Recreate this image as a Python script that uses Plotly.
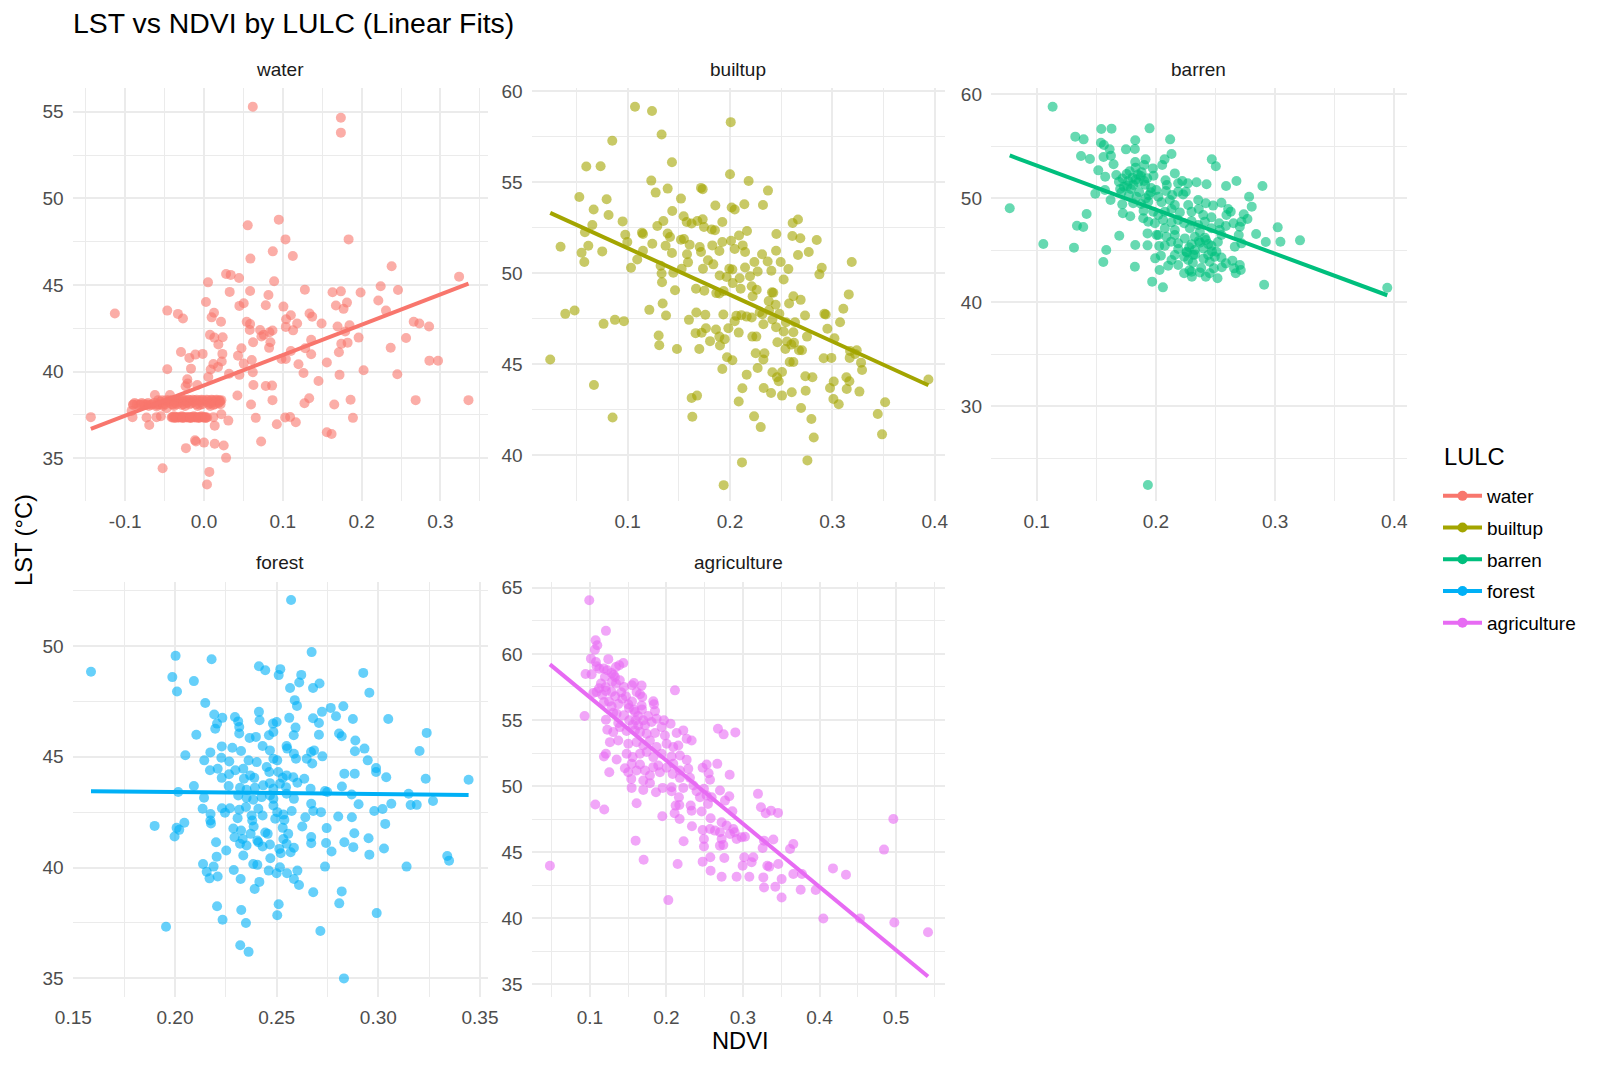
import numpy as np
import plotly.graph_objects as go

categories = ["water", "builtup", "barren", "forest", "agriculture"]
colors = ["#F8766D", "#A3A500", "#00BF7D", "#00B0F6", "#E76BF3"]

# (NDVI, LST) pairs, one list per LULC class
water_points = [(0.0619,55.29),(0.1737,54.65),(0.1737,53.79),(0.0555,48.44),(0.0949,48.77),(0.1034,47.63),(0.1835,47.63),(0.0873,46.94),(0.0589,46.52),(0.1127,46.67),(0.2381,46.08),(0.3237,45.48),(0.0280,45.63),(0.0339,45.58),(0.0445,45.40),(0.0051,45.15),(0.0890,45.21),(0.0585,44.65),(0.0326,44.60),(0.1280,44.73),(0.1631,44.58),(0.1737,44.63),(0.1987,44.56),(0.2242,44.92),(0.2462,44.71),(0.0818,44.42),(0.0025,44.02),(0.2212,44.10),(0.0504,43.94),(0.0449,43.79),(0.0784,43.83),(0.1008,43.75),(0.1674,43.81),(0.1814,43.98),(0.1771,43.62),(-0.1131,43.35),(-0.0466,43.52),(-0.0331,43.33),(-0.0267,43.06),(0.0127,43.40),(0.0097,43.13),(0.0216,42.88),(0.1102,43.25),(0.1339,43.35),(0.1373,43.17),(0.1042,43.02),(0.1182,42.77),(0.0542,42.87),(0.0585,42.75),(0.0581,42.40),(0.1492,42.77),(0.2309,43.52),(0.2661,42.88),(0.2733,42.77),(0.2856,42.60),(0.1038,42.58),(0.1131,42.38),(0.0712,42.40),(0.0831,42.27),(0.0869,42.37),(0.1695,42.60),(0.1847,42.67),(0.1792,42.31),(0.0076,42.12),(0.0131,41.96),(0.0237,41.98),(0.0729,42.02),(0.0758,42.12),(0.0843,41.69),(0.0623,41.69),(0.1360,41.83),(0.1962,41.96),(0.2564,41.94),(0.0182,41.56),(0.0475,41.35),(0.0826,41.37),(0.1742,41.60),(0.1822,41.67),(0.1284,41.35),(0.1102,41.19),(0.2369,41.38),(-0.0292,41.13),(-0.0110,40.98),(-0.0017,41.02),(-0.0186,40.79),(0.0233,41.02),(0.0432,40.92),(0.0606,40.67),(0.0225,40.58),(0.0119,40.44),(0.0178,40.27),(0.0085,40.12),(0.0504,40.46),(0.0983,40.73),(0.1038,40.73),(0.1360,41.00),(0.1712,41.12),(0.1199,40.42),(0.1559,40.52),(0.2860,40.63),(0.2970,40.62),(-0.0466,40.13),(-0.0165,40.17),(0.0318,39.87),(0.0449,39.81),(0.0619,39.96),(0.1263,39.92),(0.2025,40.08),(0.1720,39.81),(0.2453,39.85),(0.0055,39.69),(-0.0212,39.56),(-0.0233,39.15),(-0.0208,39.31),(-0.0085,39.23),(0.1453,39.46),(0.0627,39.23),(0.0784,39.17),(0.0864,39.19),(0.0424,38.62),(0.1335,38.46),(0.0869,38.35),(0.1275,38.17),(0.1653,38.10),(0.1860,38.37),(0.2686,38.35),(0.3356,38.35),(0.0597,38.10),(-0.0898,38.10),(-0.0801,38.10),(-0.0720,38.10),(-0.0623,38.65),(-0.0593,38.10),(-0.0525,38.10),(-0.0432,38.65),(-0.0390,38.10),(-0.0326,38.27),(-0.0263,38.37),(-0.0199,38.37),(-0.0144,38.37),(-0.0093,38.37),(-0.0030,38.37),(0.0034,38.37),(0.0097,38.37),(0.0161,38.37),(0.0203,38.32),(-0.0919,37.73),(-0.0602,37.98),(-0.0475,37.88),(-0.0369,38.17),(-0.0284,38.08),(-0.0220,38.17),(-0.0157,38.17),(-0.0051,38.08),(0.0076,38.17),(0.0119,38.08),(0.0182,38.17),(-0.0390,37.35),(-0.0326,37.35),(-0.0271,37.35),(-0.0220,37.35),(-0.0169,37.35),(-0.0119,37.35),(-0.0068,37.35),(-0.0017,37.35),(0.0025,37.35),(-0.1436,37.37),(-0.0907,37.37),(-0.0729,37.35),(-0.0602,37.37),(-0.0547,37.42),(-0.0695,36.92),(0.0119,37.37),(0.0220,37.54),(0.0136,36.88),(0.0309,37.17),(0.0657,37.33),(0.1030,37.35),(0.1093,37.38),(0.1165,37.08),(0.0924,36.96),(0.1890,37.33),(0.1559,36.50),(0.1619,36.40),(-0.0114,36.04),(-0.0102,35.96),(0.0,35.90),(-0.0229,35.58),(0.0136,35.83),(0.0250,35.73),(0.0725,35.96),(0.0280,35.02),(-0.0525,34.42),(0.0068,34.21),(0.0038,33.48),
    # overplotted points in the dense bands near NDVI 0
    (-0.058,38.35),(-0.053,38.35),(-0.048,38.35),(-0.044,38.35),(-0.040,38.35),(-0.036,38.35),(-0.031,38.35),(-0.027,38.35),(-0.023,38.35),(-0.018,38.35),(-0.012,38.35),(-0.006,38.35),(-0.001,38.35),(0.005,38.35),(0.010,38.35),(0.014,38.35),(0.019,38.35),(0.022,38.35),
    (-0.055,38.25),(-0.046,38.25),(-0.038,38.25),(-0.029,38.25),(-0.021,38.25),(-0.013,38.25),(-0.004,38.25),(0.004,38.25),(0.012,38.25),(0.020,38.25),
    (-0.085,38.12),(-0.076,38.12),(-0.066,38.12),(-0.057,38.12),(-0.049,38.12),(-0.041,38.12),(-0.034,38.12),(-0.026,38.12),(-0.018,38.12),(-0.010,38.12),(-0.002,38.12),(0.006,38.12),(0.014,38.12),(0.021,38.12),
    (-0.070,38.02),(-0.052,38.02),(-0.038,38.02),(-0.024,38.02),(-0.008,38.02),(0.008,38.02),
    (-0.041,37.35),(-0.036,37.35),(-0.030,37.35),(-0.025,37.35),(-0.020,37.35),(-0.015,37.35),(-0.010,37.35),(-0.005,37.35),(0.000,37.35),(0.004,37.35),(-0.033,37.35),(-0.018,37.35),
    (-0.038,37.42),(-0.028,37.42),(-0.013,37.42),(-0.003,37.42),
    (-0.040,37.38),(-0.035,37.38),(-0.029,37.38),(-0.024,37.38),(-0.019,37.38),(-0.014,37.38),(-0.009,37.38),(-0.004,37.38),(0.001,37.38),
    (-0.037,37.32),(-0.027,37.32),(-0.017,37.32),(-0.007,37.32),(0.002,37.32),
    (-0.090,38.08),(-0.082,38.08),(-0.074,38.08),(-0.067,38.08),(-0.060,38.08),
    (-0.088,38.18),(-0.079,38.18),(-0.071,38.18),(-0.063,38.18)]

builtup_points = [(0.1072,59.14),(0.1238,58.90),(0.2007,58.29),(0.1332,57.61),(0.0850,57.27),(0.0596,55.85),(0.0736,55.87),(0.1433,56.09),(0.2000,55.43),(0.1231,55.08),(0.2182,55.06),(0.1274,54.42),(0.1391,54.64),(0.1717,54.68),(0.1733,54.61),(0.2371,54.53),(0.0528,54.18),(0.0795,54.06),(0.1521,54.09),(0.0668,53.49),(0.0814,53.19),(0.1857,53.71),(0.2016,53.60),(0.2046,53.49),(0.2140,53.78),(0.2322,53.74),(0.1436,53.41),(0.0951,52.84),(0.0655,52.64),(0.1290,52.59),(0.1349,52.86),(0.1547,53.12),(0.1577,52.81),(0.1625,52.72),(0.1681,52.86),(0.1733,52.95),(0.1746,52.53),(0.1821,52.39),(0.1853,52.35),(0.1925,52.81),(0.2612,52.75),(0.2664,52.94),(0.0583,52.24),(0.2166,52.31),(0.1140,52.22),(0.1150,52.15),(0.0977,52.11),(0.1391,52.17),(0.1414,51.98),(0.2088,52.06),(0.2453,52.15),(0.2609,52.04),(0.2687,51.91),(0.2847,51.82),(0.0345,51.45),(0.0616,51.50),(0.1241,51.61),(0.0997,51.71),(0.1371,51.50),(0.1521,51.83),(0.1550,51.87),(0.1606,51.56),(0.1704,51.43),(0.1827,51.52),(0.1925,51.71),(0.2010,51.78),(0.2124,51.52),(0.2046,51.32),(0.0550,51.12),(0.0752,51.19),(0.1433,51.10),(0.1150,51.23),(0.1580,51.03),(0.1717,51.16),(0.1896,51.21),(0.2147,51.16),(0.2313,51.03),(0.2450,51.23),(0.2664,50.99),(0.2769,51.16),(0.0577,50.61),(0.1094,50.75),(0.1033,50.29),(0.1590,50.59),(0.1736,50.24),(0.1785,50.70),(0.1837,50.48),(0.1993,50.24),(0.2023,50.20),(0.2147,50.31),(0.2238,50.61),(0.2368,50.64),(0.2495,50.61),(0.2570,50.22),(0.2896,50.29),(0.3189,50.61),(0.1322,50.40),(0.1332,49.98),(0.1446,50.02),(0.1528,50.24),(0.1336,49.50),(0.1899,49.87),(0.1967,49.78),(0.2094,49.72),(0.2195,49.83),(0.2270,50.09),(0.2404,50.13),(0.2524,49.65),(0.2873,49.93),(0.1668,49.14),(0.1749,49.03),(0.1866,48.90),(0.1896,48.88),(0.1938,49.01),(0.2026,49.45),(0.2104,49.14),(0.2212,49.28),(0.2221,48.73),(0.2261,49.08),(0.1463,49.06),(0.2410,48.94),(0.2423,48.92),(0.2619,48.73),(0.2690,48.53),(0.3160,48.83),(0.1342,48.33),(0.2378,48.46),(0.2446,48.26),(0.2577,48.33),(0.3107,48.04),(0.0391,47.76),(0.0482,47.94),(0.1212,47.98),(0.1375,47.67),(0.1671,47.83),(0.1759,47.71),(0.1935,47.72),(0.2062,47.65),(0.2111,47.69),(0.2163,47.61),(0.2290,47.85),(0.2316,47.74),(0.2381,47.96),(0.2482,47.76),(0.2733,47.67),(0.2922,47.76),(0.2935,47.72),(0.0765,47.21),(0.0876,47.43),(0.0964,47.36),(0.1599,47.43),(0.2046,47.36),(0.2212,47.56),(0.2326,47.19),(0.2414,47.45),(0.2547,47.30),(0.2635,47.30),(0.3075,47.30),(0.1765,46.97),(0.1863,46.90),(0.1984,46.97),(0.2450,47.03),(0.2524,46.79),(0.2619,46.75),(0.2951,46.94),(0.1664,46.70),(0.1723,46.72),(0.2085,46.73),(0.1303,46.57),(0.2218,46.51),(0.2257,46.51),(0.2752,46.51),(0.3020,46.42),(0.1896,46.51),(0.1948,46.37),(0.1805,46.26),(0.2463,46.20),(0.2557,46.24),(0.2625,46.17),(0.1309,46.04),(0.1902,46.02),(0.2599,46.07),(0.1700,45.83),(0.1482,45.83),(0.2541,45.83),(0.2674,45.76),(0.2703,45.76),(0.3173,45.72),(0.3238,45.76),(0.2251,45.60),(0.2336,45.60),(0.3222,45.56),(0.1971,45.38),(0.2023,45.21),(0.2326,45.25),(0.2915,45.32),(0.2990,45.34),(0.3169,45.34),(0.2583,45.12),(0.2619,45.12),(0.3280,45.08),(0.0244,45.25),(0.1925,44.73),(0.2270,44.79),(0.2414,44.55),(0.2508,44.57),(0.3290,44.68),(0.2163,44.42),(0.2459,44.28),(0.2476,44.06),(0.2736,44.33),(0.2805,44.28),(0.3137,44.28),(0.3166,44.06),(0.3938,44.15),(0.3013,44.04),(0.0671,43.85),(0.2121,43.67),(0.2329,43.69),(0.2401,43.41),(0.2739,43.54),(0.2603,43.45),(0.2977,43.69),(0.3140,43.63),(0.3264,43.49),(0.2508,43.27),(0.1678,43.27),(0.1625,43.14),(0.2085,42.95),(0.3010,43.08),(0.3062,42.79),(0.2694,42.59),(0.3515,42.90),(0.3443,42.26),(0.0853,42.07),(0.1632,42.11),(0.2235,42.13),(0.2795,41.98),(0.2300,41.54),(0.2818,40.97),(0.3485,41.14),(0.2117,39.60),(0.2756,39.71),(0.1938,38.35)]

barren_points = [(0.1134,58.81),(0.0774,49.04),(0.1056,45.61),(0.1313,45.26),(0.3941,41.41),(0.1933,22.44),(0.1542,56.67),(0.1628,56.70),(0.1947,56.73),(0.1324,55.93),(0.1394,55.67),(0.2120,55.67),(0.1827,55.58),(0.1539,55.35),(0.1564,55.13),(0.1612,54.71),(0.1749,54.71),(0.1824,54.74),(0.2131,54.26),(0.1372,54.07),(0.1447,53.78),(0.1561,53.97),(0.1623,54.10),(0.1645,53.27),(0.1913,53.75),(0.1827,53.49),(0.2073,53.75),(0.2469,53.75),(0.2503,53.08),(0.1517,52.69),(0.1902,53.21),(0.1975,52.88),(0.2053,53.21),(0.1830,52.95),(0.1575,52.08),(0.1668,52.24),(0.1754,52.34),(0.1804,51.99),(0.1874,52.15),(0.1927,51.92),(0.1980,52.18),(0.2159,52.40),(0.2221,51.67),(0.2341,51.54),(0.2425,51.35),(0.2589,51.19),(0.2676,51.67),(0.2894,51.19),(0.1690,51.60),(0.1732,51.12),(0.1768,51.67),(0.1810,51.28),(0.1852,51.54),(0.1902,51.67),(0.2081,51.73),(0.2092,51.28),(0.2187,51.44),(0.2268,51.44),(0.1492,50.45),(0.1573,50.80),(0.1620,49.84),(0.1712,50.58),(0.1774,50.32),(0.1838,50.16),(0.1916,50.00),(0.1958,50.58),(0.2003,50.80),(0.2020,50.16),(0.2084,50.71),(0.2137,50.32),(0.2187,50.64),(0.2229,50.38),(0.2251,50.64),(0.2782,50.16),(0.1718,49.42),(0.1810,49.52),(0.1877,49.46),(0.1936,49.68),(0.2047,49.62),(0.2117,49.84),(0.2159,49.36),(0.2271,49.36),(0.2355,49.84),(0.2419,49.52),(0.2480,49.30),(0.2550,49.58),(0.2606,48.97),(0.2804,49.20),(0.1419,48.49),(0.1723,48.56),(0.1785,48.27),(0.1897,48.81),(0.1978,48.72),(0.2020,48.40),(0.2075,48.72),(0.2131,48.97),(0.2201,48.65),(0.2299,48.72),(0.2360,48.97),(0.2397,48.40),(0.2466,48.17),(0.2592,48.40),(0.2628,48.72),(0.2737,48.46),(0.1894,48.08),(0.1936,47.76),(0.1992,47.60),(0.2061,47.92),(0.2131,47.69),(0.2187,47.92),(0.2237,47.60),(0.2299,47.82),(0.2355,47.44),(0.2411,47.76),(0.2531,47.60),(0.2587,47.34),(0.2651,47.60),(0.2718,47.76),(0.2768,48.01),(0.1338,47.37),(0.1391,47.24),(0.2075,47.12),(0.2159,46.96),(0.2285,47.12),(0.2369,46.79),(0.2466,47.12),(0.2536,46.96),(0.3022,47.21),(0.2704,47.28),(0.1693,46.41),(0.1930,46.63),(0.2006,46.47),(0.2020,46.47),(0.2089,46.31),(0.2159,46.47),(0.2243,46.15),(0.2327,46.31),(0.2411,46.22),(0.2550,46.47),(0.2695,46.47),(0.2841,46.57),(0.2128,45.83),(0.2187,45.67),(0.2299,45.58),(0.2369,45.74),(0.2718,45.67),(0.2922,45.80),(0.3045,45.83),(0.3209,45.96),(0.1827,45.51),(0.1930,45.48),(0.2028,45.42),(0.2075,45.45),(0.2662,45.35),(0.1584,45.03),(0.2187,45.13),(0.2257,44.87),(0.2327,45.03),(0.2397,45.19),(0.2466,45.45),(0.2508,44.87),(0.2159,44.55),(0.2237,44.39),(0.2313,44.55),(0.2439,44.55),(0.2494,44.39),(0.1994,44.23),(0.2042,44.49),(0.1559,43.88),(0.2131,44.07),(0.2271,44.07),(0.2452,43.91),(0.2587,43.75),(0.2642,44.01),(0.2103,43.53),(0.2187,43.59),(0.1824,43.43),(0.2031,43.11),(0.2486,43.27),(0.2553,43.37),(0.2704,43.59),(0.2656,43.27),(0.2712,43.11),(0.2237,42.79),(0.2299,42.95),(0.2369,42.88),(0.2282,43.08),(0.2419,42.47),(0.2452,42.79),(0.2517,42.31),(0.2670,42.79),(0.2302,42.47),(0.1969,41.99),(0.2059,41.44),(0.2908,41.70),
    (0.172,51.9),(0.176,51.2),(0.179,50.9),(0.183,51.8),(0.186,50.6),(0.188,52.5),(0.191,51.3),(0.194,50.3),(0.185,52.3),(0.178,52.6),(0.170,50.9),(0.196,51.0),
    (0.228,45.3),(0.233,44.6),(0.236,45.9),(0.240,44.2),(0.244,45.6),(0.247,44.9),(0.252,45.8),(0.231,43.8),(0.238,43.3),(0.226,44.8),(0.255,44.3),(0.242,46.0)]

forest_points = [(0.2571,52.08),(0.2672,49.73),(0.2003,49.56),(0.2180,49.41),(0.1587,48.84),(0.2413,49.09),(0.2444,48.91),(0.2518,48.96),(0.2510,48.69),(0.1987,48.60),(0.2093,48.42),(0.2621,48.70),(0.2611,48.36),(0.2711,48.31),(0.2926,48.79),(0.2566,48.11),(0.2679,48.11),(0.2010,47.95),(0.2956,47.89),(0.2589,47.56),(0.2600,47.30),(0.2149,47.43),(0.2766,47.21),(0.2828,47.28),(0.2193,46.91),(0.2233,46.76),(0.2295,46.80),(0.2311,46.60),(0.2413,47.03),(0.2416,46.65),(0.2482,46.50),(0.2500,46.57),(0.2562,46.76),(0.2679,46.74),(0.2723,47.03),(0.2792,46.83),(0.2875,46.71),(0.3049,46.71),(0.2207,46.50),(0.2198,46.27),(0.2316,46.35),(0.2316,46.05),(0.2593,46.32),(0.2708,46.53),(0.2105,46.00),(0.2367,45.85),(0.2398,45.90),(0.2462,45.97),(0.2484,46.12),(0.2584,45.97),(0.2708,46.00),(0.2807,46.05),(0.2820,45.93),(0.3238,46.08),(0.2887,45.74),(0.2885,45.25),(0.2932,45.37),(0.3203,45.26),(0.2051,45.07),(0.2174,45.20),(0.2230,45.47),(0.2282,45.41),(0.2325,45.26),(0.2228,44.96),(0.2144,44.84),(0.2267,44.79),(0.2362,44.84),(0.2402,44.76),(0.2431,45.49),(0.2467,45.29),(0.2484,44.91),(0.2503,44.84),(0.2549,45.49),(0.2552,45.37),(0.2585,45.14),(0.2595,44.91),(0.2648,44.91),(0.2669,45.22),(0.2684,45.29),(0.2725,45.02),(0.2675,44.70),(0.2948,44.84),(0.2989,44.49),(0.2989,44.31),(0.3039,44.08),(0.3233,44.01),(0.3444,43.96),(0.2172,44.39),(0.2210,44.46),(0.2230,44.05),(0.2266,44.21),(0.2297,44.39),(0.2336,44.46),(0.2339,44.01),(0.2370,44.16),(0.2390,44.05),(0.2451,44.54),(0.2464,44.31),(0.2508,44.31),(0.2530,44.05),(0.2549,44.16),(0.2582,44.08),(0.2602,43.83),(0.2636,44.01),(0.2833,44.24),(0.2884,44.24),(0.2093,43.68),(0.2016,43.41),(0.2264,43.68),(0.2320,43.60),(0.2352,43.51),(0.2393,43.60),(0.2434,43.71),(0.2467,43.81),(0.2484,43.56),(0.2516,43.78),(0.2546,43.63),(0.2667,43.56),(0.2738,43.45),(0.2749,43.41),(0.2821,43.66),(0.2869,43.30),(0.3149,43.33),(0.2143,43.15),(0.2311,43.25),(0.2352,43.15),(0.2385,43.06),(0.2426,43.18),(0.2467,43.25),(0.2484,43.10),(0.2549,43.33),(0.2585,43.10),(0.3269,43.00),(0.2670,42.88),(0.2903,42.86),(0.3064,42.88),(0.3159,42.82),(0.3189,42.83),(0.2980,42.55),(0.3021,42.64),(0.2136,42.65),(0.2175,42.42),(0.2231,42.68),(0.2246,42.47),(0.2270,42.68),(0.2316,42.61),(0.2349,42.73),(0.2377,42.35),(0.2410,42.65),(0.2431,42.35),(0.2484,42.80),(0.2503,42.50),(0.2533,42.39),(0.2574,42.55),(0.2680,42.55),(0.2718,42.50),(0.2803,42.30),(0.2870,42.27),(0.2174,42.12),(0.2308,42.23),(0.2380,42.12),(0.2493,42.20),(0.2538,42.15),(0.2641,42.27),(0.2177,41.99),(0.2046,42.02),(0.1900,41.88),(0.2008,41.79),(0.2021,41.70),(0.2387,41.85),(0.2530,41.79),(0.2626,41.85),(0.2746,41.78),(0.3034,41.97),(0.2287,41.76),(0.2325,41.67),(0.2444,41.58),(0.2456,41.52),(0.1998,41.40),(0.2293,41.37),(0.2333,41.29),(0.2372,41.52),(0.2405,41.22),(0.2533,41.29),(0.2557,41.52),(0.2882,41.55),(0.2952,41.32),(0.2670,41.38),(0.2202,41.14),(0.2320,41.07),(0.2352,40.99),(0.2410,41.14),(0.2431,40.95),(0.2467,41.04),(0.2513,40.84),(0.2549,41.07),(0.2585,40.89),(0.2670,41.10),(0.2743,41.11),(0.2833,41.14),(0.2877,40.92),(0.3028,40.86),(0.2252,40.77),(0.2336,40.54),(0.2469,40.42),(0.2520,40.64),(0.2569,40.69),(0.2770,40.72),(0.2956,40.58),(0.3339,40.52),(0.3348,40.31),(0.2205,40.49),(0.2138,40.16),(0.2190,40.04),(0.2385,40.16),(0.2405,40.12),(0.2516,40.01),(0.2738,40.04),(0.3139,40.04),(0.2156,39.81),(0.2289,39.89),(0.2461,39.86),(0.2500,39.74),(0.2551,39.74),(0.2602,39.86),(0.2170,39.51),(0.2210,39.59),(0.2323,39.48),(0.2415,39.35),(0.2585,39.48),(0.2610,39.21),(0.2392,39.03),(0.2680,38.88),(0.2820,38.92),(0.2808,38.38),(0.2510,38.34),(0.2207,38.25),(0.2326,38.08),(0.2503,37.84),(0.2234,37.64),(0.2349,37.49),(0.2992,37.94),(0.1956,37.32),(0.2715,37.13),(0.2321,36.49),(0.2362,36.19),(0.2831,34.99)]

agriculture_points = [(0.0991,64.06),(0.1209,61.74),(0.1074,61.03),(0.1096,60.65),(0.1065,60.32),(0.1013,59.64),(0.1078,59.39),(0.1087,59.06),(0.1122,58.88),(0.0943,58.48),(0.1022,58.45),(0.1227,58.76),(0.1283,58.56),(0.1340,59.01),(0.1383,59.14),(0.1436,59.31),(0.1327,58.25),(0.1196,58.25),(0.1144,57.75),(0.1087,57.11),(0.1044,57.04),(0.1205,57.49),(0.1283,57.11),(0.1340,57.75),(0.1444,57.49),(0.1549,57.62),(0.1575,57.80),(0.1675,57.60),(0.1610,57.11),(0.1654,56.94),(0.1684,56.74),(0.2111,57.24),(0.1183,56.36),(0.1283,56.03),(0.1423,56.61),(0.1501,56.18),(0.1575,55.78),(0.1675,56.10),(0.1828,56.41),(0.1837,56.18),(0.1850,55.67),(0.0930,55.30),(0.1209,55.02),(0.1305,55.55),(0.1349,55.47),(0.1444,55.35),(0.1514,54.97),(0.1370,54.77),(0.1562,54.64),(0.1597,54.97),(0.1632,54.59),(0.1697,54.97),(0.1806,54.84),(0.1871,55.09),(0.1967,54.97),(0.2054,54.71),(0.1937,54.46),(0.1227,54.26),(0.1305,54.08),(0.1392,54.46),(0.1479,54.16),(0.1588,54.21),(0.1654,54.08),(0.1741,53.96),(0.1850,54.01),(0.1980,53.83),(0.2133,54.01),(0.2220,54.21),(0.2673,54.34),(0.2747,53.91),(0.2900,54.06),(0.2264,53.58),(0.2329,53.45),(0.1261,53.32),(0.1370,53.45),(0.1501,53.20),(0.1610,53.32),(0.1697,53.07),(0.1784,53.45),(0.1871,52.95),(0.2002,53.20),(0.2089,52.95),(0.2155,53.07),(0.1209,52.44),(0.1183,52.24),(0.1349,52.01),(0.1479,52.44),(0.1558,52.19),(0.1654,52.44),(0.1741,52.57),(0.1828,52.19),(0.1937,52.44),(0.2067,52.24),(0.2176,52.31),(0.2264,51.98),(0.1457,51.35),(0.1545,51.68),(0.1654,51.63),(0.1719,51.18),(0.1828,51.43),(0.1893,51.56),(0.2002,51.38),(0.2089,51.68),(0.2176,51.18),(0.2285,51.30),(0.2473,51.38),(0.2525,51.63),(0.2664,51.68),(0.2551,50.97),(0.1253,51.05),(0.1501,51.05),(0.1610,51.18),(0.1784,50.80),(0.1915,51.05),(0.2081,50.92),(0.2176,50.62),(0.2307,50.62),(0.2569,50.47),(0.2826,50.85),(0.1540,50.54),(0.1697,50.42),(0.1784,50.22),(0.1545,49.86),(0.1697,49.71),(0.1863,49.53),(0.1950,49.86),(0.2067,49.91),(0.2067,49.61),(0.2220,49.86),(0.2351,50.04),(0.2394,49.61),(0.2490,49.79),(0.2438,49.15),(0.2525,49.28),(0.2590,49.15),(0.2699,49.66),(0.2821,49.23),(0.3196,49.41),(0.2163,49.15),(0.2765,48.90),(0.1610,48.70),(0.1070,48.60),(0.1187,48.22),(0.2120,48.52),(0.2168,48.57),(0.2316,48.52),(0.2329,48.14),(0.2460,48.07),(0.2542,48.65),(0.2577,47.56),(0.2861,48.09),(0.3235,48.40),(0.3297,47.94),(0.3366,48.14),(0.3458,47.97),(0.1946,47.71),(0.2107,47.94),(0.2172,47.51),(0.4965,47.51),(0.2721,47.26),(0.2786,47.01),(0.2874,46.75),(0.2333,46.96),(0.2473,46.68),(0.2569,46.75),(0.2634,46.63),(0.2699,46.50),(0.2830,46.37),(0.2891,46.50),(0.2490,46.00),(0.2721,46.00),(0.2917,46.00),(0.2983,46.12),(0.3026,46.17),(0.3275,45.87),(0.3397,45.95),(0.1597,45.87),(0.2224,45.82),(0.3658,45.62),(0.3615,45.24),(0.4843,45.19),(0.2699,45.49),(0.2743,45.54),(0.2490,45.42),(0.3257,45.31),(0.1702,44.43),(0.2146,44.10),(0.2473,44.28),(0.2573,44.61),(0.2756,44.55),(0.3017,44.61),(0.3135,44.61),(0.3113,44.23),(0.2996,43.97),(0.3318,43.97),(0.3462,44.10),(0.3344,43.90),(0.0477,43.97),(0.2577,43.59),(0.3658,43.34),(0.3771,43.34),(0.4176,43.77),(0.4346,43.29),(0.2721,43.14),(0.2917,43.14),(0.3083,43.14),(0.3266,43.09),(0.3505,42.96),(0.3275,42.33),(0.3423,42.38),(0.3754,42.15),(0.3950,42.13),(0.3505,41.57),(0.2024,41.37),(0.4050,39.98),(0.4529,39.98),(0.4978,39.68),(0.5418,38.94),
    (0.112,57.4),(0.116,56.9),(0.121,57.2),(0.125,56.4),(0.129,57.9),(0.133,56.8),(0.137,56.2),(0.141,57.1),(0.147,56.8),(0.151,55.9),(0.155,56.4),(0.159,55.6),(0.163,55.3),(0.168,55.8),(0.172,54.6),(0.176,55.3),(0.118,58.9),(0.124,59.6),(0.131,58.4),(0.139,58.0)]

# axis ticks per panel
water_xticks = [-0.1, 0.0, 0.1, 0.2, 0.3]
water_yticks = [35, 40, 45, 50, 55]
builtup_xticks = [0.1, 0.2, 0.3, 0.4]
builtup_yticks = [40, 45, 50, 55, 60]
barren_xticks = [0.1, 0.2, 0.3, 0.4]
barren_yticks = [30, 40, 50, 60]
forest_xticks = [0.15, 0.20, 0.25, 0.30, 0.35]
forest_yticks = [35, 40, 45, 50]
agriculture_xticks = [0.1, 0.2, 0.3, 0.4, 0.5]
agriculture_yticks = [35, 40, 45, 50, 55, 60, 65]

all_points = [water_points, builtup_points, barren_points, forest_points, agriculture_points]
all_xticks = [water_xticks, builtup_xticks, barren_xticks, forest_xticks, agriculture_xticks]
all_yticks = [water_yticks, builtup_yticks, barren_yticks, forest_yticks, agriculture_yticks]

# ---------------- layout geometry (pixels) ----------------
W, H = 1600, 1066
col_px = [(72.7, 487.7), (531.7, 945.0), (991.0, 1406.7)]
row_px = [(88.3, 501.0), (581.7, 997.0)]
panel_pos = [(0, 0), (0, 1), (0, 2), (1, 0), (1, 1)]
x_ranges = [[-0.1666, 0.36], [0.0063, 0.41], [0.0617, 0.4104], [0.1497, 0.3538], [0.0239, 0.564]]
y_ranges = [[32.53, 56.35], [37.48, 60.15], [20.9, 60.58], [34.15, 52.91], [34.04, 65.46]]
x_fmt = ["{:.1f}", "{:.1f}", "{:.1f}", "{:.2f}", "{:.1f}"]


def minor_vals(ticks, rng):
    step = ticks[1] - ticks[0]
    vals = []
    v = ticks[0] - step / 2
    while v > rng[0]:
        v -= step
    while v < rng[1]:
        if v > rng[0]:
            vals.append(round(v, 6))
        v += step
    return vals


FONT = "Liberation Sans, Arial, sans-serif"
GRID = "#EBEBEB"
SMALL = 19
MID = 23.7

fig = go.Figure()
layout = dict(
    width=W, height=H,
    margin=dict(l=0, r=0, t=0, b=0),
    paper_bgcolor="white", plot_bgcolor="white",
    font=dict(family=FONT, color="#4D4D4D", size=SMALL),
    showlegend=True,
)
annotations = []

for i, cat in enumerate(categories):
    r, c = panel_pos[i]
    x0, x1 = col_px[c]
    y0, y1 = row_px[r]
    ax = "" if i == 0 else str(i + 1)
    pts = all_points[i]
    xs = np.array([p[0] for p in pts])
    ys = np.array([p[1] for p in pts])

    fig.add_trace(go.Scatter(
        x=xs, y=ys, mode="markers",
        marker=dict(color=colors[i], size=10, opacity=0.6, line=dict(width=0)),
        xaxis="x" + ax, yaxis="y" + ax, showlegend=False, name=cat,
    ))
    slope, intercept = np.polyfit(xs, ys, 1)
    fx = np.array([xs.min(), xs.max()])
    fig.add_trace(go.Scatter(
        x=fx, y=slope * fx + intercept, mode="lines",
        line=dict(color=colors[i], width=4),
        xaxis="x" + ax, yaxis="y" + ax, showlegend=False, name=cat,
    ))

    xt = all_xticks[i]
    yt = all_yticks[i]
    common = dict(showline=False, zeroline=False, ticks="", showgrid=True,
                  gridcolor=GRID, gridwidth=2, automargin=False,
                  tickfont=dict(family=FONT, size=SMALL, color="#4D4D4D"))
    layout["xaxis" + ax] = dict(
        domain=[x0 / W, x1 / W], range=x_ranges[i], anchor="y" + ax,
        tickmode="array", tickvals=xt,
        ticktext=[x_fmt[i].format(v) for v in xt],
        minor=dict(tickmode="array", tickvals=minor_vals(xt, x_ranges[i]),
                   showgrid=True, gridcolor=GRID, gridwidth=1, ticks=""),
        ticklabelstandoff=7,
        **common)
    layout["yaxis" + ax] = dict(
        domain=[1 - y1 / H, 1 - y0 / H], range=y_ranges[i], anchor="x" + ax,
        tickmode="array", tickvals=yt, ticktext=[str(v) for v in yt],
        minor=dict(tickmode="array", tickvals=minor_vals(yt, y_ranges[i]),
                   showgrid=True, gridcolor=GRID, gridwidth=1, ticks=""),
        ticklabelstandoff=8,
        **common)
    annotations.append(dict(
        text=cat, x=(x0 + x1) / 2 / W, y=1 - (y0 - 19) / H,
        xref="paper", yref="paper", xanchor="center", yanchor="middle",
        showarrow=False, font=dict(family=FONT, size=SMALL, color="#1A1A1A")))

# legend entries (line + point key, like ggplot)
for i, cat in enumerate(categories):
    fig.add_trace(go.Scatter(
        x=[None], y=[None], mode="lines+markers", name=cat, legendgroup=cat,
        marker=dict(color=colors[i], size=10),
        line=dict(color=colors[i], width=4),
        xaxis="x", yaxis="y", showlegend=True,
    ))

layout["legend"] = dict(
    x=1438 / W, y=1 - 477 / H, xanchor="left", yanchor="top",
    bgcolor="rgba(0,0,0,0)", borderwidth=0,
    font=dict(family=FONT, size=SMALL, color="#000000"),
    tracegroupgap=4, itemwidth=39,
)

annotations.append(dict(
    text="LULC", x=1442 / W, y=1 - 457 / H, xref="paper", yref="paper",
    xanchor="left", yanchor="middle", showarrow=False,
    font=dict(family=FONT, size=MID, color="#000000")))
annotations.append(dict(
    text="LST vs NDVI by LULC (Linear Fits)", x=71 / W, y=1 - 23 / H,
    xref="paper", yref="paper", xanchor="left", yanchor="middle",
    showarrow=False, font=dict(family=FONT, size=28.4, color="#000000")))
annotations.append(dict(
    text="NDVI", x=740 / W, y=1 - 1041 / H, xref="paper", yref="paper",
    xanchor="center", yanchor="middle", showarrow=False,
    font=dict(family=FONT, size=MID, color="#000000")))
annotations.append(dict(
    text="LST (°C)", x=24 / W, y=1 - 540 / H, xref="paper", yref="paper",
    xanchor="center", yanchor="middle", textangle=-90, showarrow=False,
    font=dict(family=FONT, size=MID, color="#000000")))

layout["annotations"] = annotations
fig.update_layout(**layout)
fig.write_html("out.html")
